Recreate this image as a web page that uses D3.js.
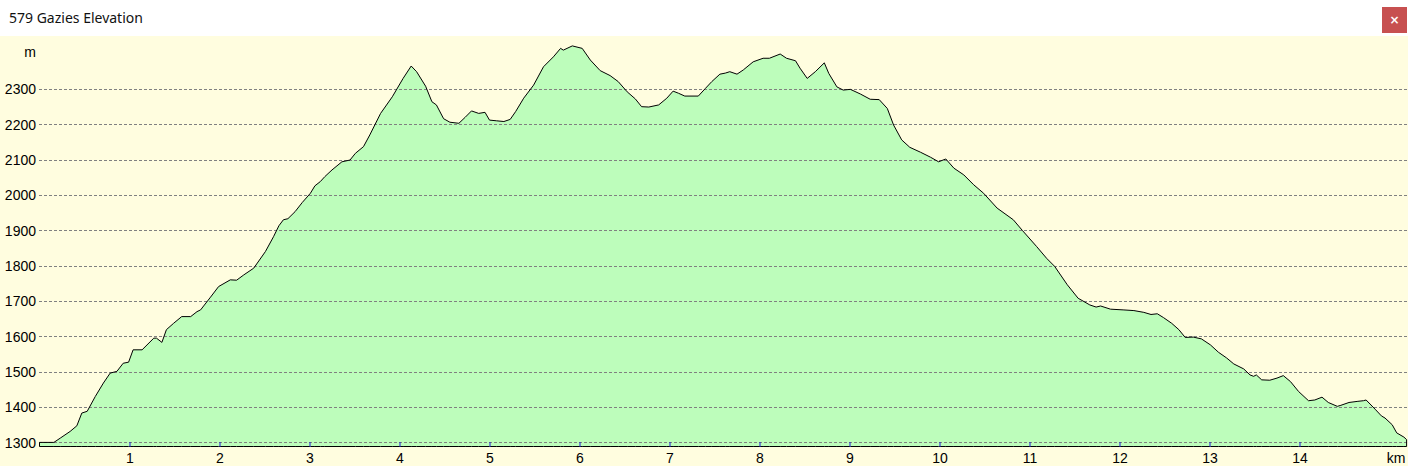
<!DOCTYPE html>
<html>
<head>
<meta charset="utf-8">
<script src="https://cdn.jsdelivr.net/npm/d3@7"></script>
<style>
  html, body { margin: 0; padding: 0; background: #fff; }
  svg { display: block; }
</style>
</head>
<body>
<svg id="chart" width="1408" height="466"></svg>
<script>
const titleText = "579 Gazies Elevation";
const yUnit = "m";
const xUnit = "km";
const distKm = [0,0.16,0.23,0.34,0.415,0.47,0.53,0.62,0.71,0.785,0.86,0.93,0.99,1.04,1.14,1.27,1.3,1.36,1.41,1.49,1.58,1.68,1.75,1.79,1.9,1.99,2.12,2.19,2.27,2.38,2.51,2.6,2.66,2.71,2.76,2.84,2.92,3.01,3.06,3.12,3.17,3.25,3.36,3.45,3.51,3.6,3.67,3.79,3.92,4.04,4.13,4.19,4.29,4.36,4.41,4.49,4.56,4.66,4.73,4.8,4.88,4.95,5.0,5.08,5.16,5.23,5.29,5.38,5.49,5.6,5.71,5.79,5.82,5.92,6.03,6.12,6.23,6.34,6.43,6.53,6.62,6.69,6.77,6.88,6.97,7.04,7.1,7.17,7.32,7.4,7.47,7.56,7.62,7.67,7.75,7.82,7.93,8.04,8.11,8.23,8.3,8.4,8.45,8.53,8.62,8.72,8.77,8.86,8.93,9.01,9.12,9.23,9.33,9.42,9.49,9.58,9.67,9.79,9.9,9.99,10.07,10.16,10.27,10.38,10.49,10.64,10.82,10.92,11.08,11.19,11.28,11.42,11.54,11.67,11.74,11.79,11.9,12.04,12.16,12.27,12.35,12.42,12.49,12.58,12.66,12.73,12.82,12.91,13.01,13.1,13.19,13.27,13.38,13.45,13.49,13.52,13.58,13.67,13.75,13.82,13.9,13.99,14.1,14.17,14.25,14.32,14.42,14.46,14.55,14.64,14.71,14.74,14.84,14.91,14.95,15.03,15.08,15.16,15.19];
const elevM = [1300,1300,1312,1331,1347,1383,1388,1430,1468,1496,1501,1524,1527,1562,1562,1595,1595,1583,1619,1637,1656,1656,1670,1675,1711,1741,1760,1759,1774,1793,1840,1882,1913,1930,1933,1953,1979,2005,2026,2038,2052,2071,2094,2099,2118,2137,2170,2231,2278,2330,2365,2349,2308,2264,2255,2216,2206,2203,2220,2238,2231,2234,2212,2210,2208,2214,2236,2274,2311,2363,2391,2415,2410,2422,2415,2382,2352,2338,2321,2292,2272,2250,2249,2255,2274,2294,2288,2280,2280,2302,2321,2342,2345,2349,2342,2354,2377,2387,2387,2399,2387,2380,2359,2330,2349,2374,2344,2306,2297,2299,2286,2271,2270,2245,2198,2156,2135,2121,2107,2094,2102,2076,2057,2029,2005,1963,1930,1900,1854,1821,1798,1746,1708,1689,1683,1686,1677,1675,1673,1668,1662,1664,1653,1637,1619,1597,1598,1593,1576,1555,1539,1522,1508,1491,1487,1491,1477,1476,1482,1489,1472,1444,1418,1420,1428,1413,1402,1405,1413,1416,1418,1420,1394,1375,1369,1350,1327,1315,1308];
const yTicks = [1300,1400,1500,1600,1700,1800,1900,2000,2100,2200,2300];
const xTicks = [1,2,3,4,5,6,7,8,9,10,11,12,13,14];

const data = distKm.map((d, i) => ({ d, e: elevM[i] }));
const svg = d3.select("#chart");
const W = 1408, H = 466;

// title bar
svg.append("rect").attr("x", 0).attr("y", 0).attr("width", W).attr("height", 36).attr("fill", "#ffffff");
svg.append("text").attr("x", 9).attr("y", 23)
  .attr("font-family", "'Noto Sans', sans-serif").attr("font-size", 14).attr("fill", "#111")
  .text(titleText);
svg.append("rect").attr("x", 1382).attr("y", 7).attr("width", 25).attr("height", 26).attr("fill", "#c75050");
svg.append("text").attr("x", 1394.5).attr("y", 24).attr("text-anchor", "middle")
  .attr("font-family", "'DejaVu Sans', sans-serif").attr("font-size", 12).attr("font-weight", "bold").attr("fill", "#fff")
  .text("×");

// chart background
svg.append("rect").attr("x", 0).attr("y", 36).attr("width", W).attr("height", H - 36).attr("fill", "#fffddf");

const x = d3.scaleLinear().domain([0, 15.19]).range([39.5, 1406.6]);
const y = d3.scaleLinear().domain([1287, 2450]).range([447, 36]);

const area = d3.area().x(p => x(p.d)).y0(y(1287)).y1(p => y(p.e));
svg.append("path").datum(data).attr("d", area).attr("fill", "#bdfdbb");

// gridlines
const grid = svg.append("g");
grid.selectAll("line").data(yTicks).join("line")
  .attr("x1", 39).attr("x2", W)
  .attr("y1", v => Math.round(y(v)) + 0.5).attr("y2", v => Math.round(y(v)) + 0.5)
  .attr("stroke", "#808080").attr("stroke-width", 1).attr("stroke-dasharray", "3,2");

// outline
svg.append("path").datum(data).attr("d", d3.area().x(p => x(p.d)).y0(446.5).y1(p => y(p.e)))
  .attr("fill", "none").attr("stroke", "#000").attr("stroke-width", 1);

// y axis labels
const yAxis = d3.axisLeft(y).tickValues(yTicks).tickSize(0).tickPadding(3).tickFormat(d3.format("d"));
const gy = svg.append("g").attr("transform", "translate(39,0)").call(yAxis);
gy.select(".domain").remove();
gy.selectAll("text").attr("font-family", "'Liberation Sans', Arial, sans-serif").attr("font-size", 14).attr("fill", "#000").attr("dy", "0.35em");
svg.append("text").attr("x", 36).attr("y", 57).attr("text-anchor", "end")
  .attr("font-family", "'Liberation Sans', Arial, sans-serif").attr("font-size", 14).attr("fill", "#000").text(yUnit);

// x axis
const xAxis = d3.axisTop(x).tickValues(xTicks).tickSize(5).tickFormat(d3.format("d"));
const gx = svg.append("g").attr("transform", "translate(0,447)").call(xAxis);
gx.select(".domain").remove();
gx.selectAll(".tick line").attr("stroke", "#2020d0");
gx.selectAll("text").attr("y", 16).attr("dy", 0).attr("font-family", "'Liberation Sans', Arial, sans-serif").attr("font-size", 14).attr("fill", "#000");
svg.append("text").attr("x", 1396).attr("y", 463).attr("text-anchor", "middle")
  .attr("font-family", "'Liberation Sans', Arial, sans-serif").attr("font-size", 14).attr("fill", "#000").text(xUnit);
</script>
</body>
</html>
